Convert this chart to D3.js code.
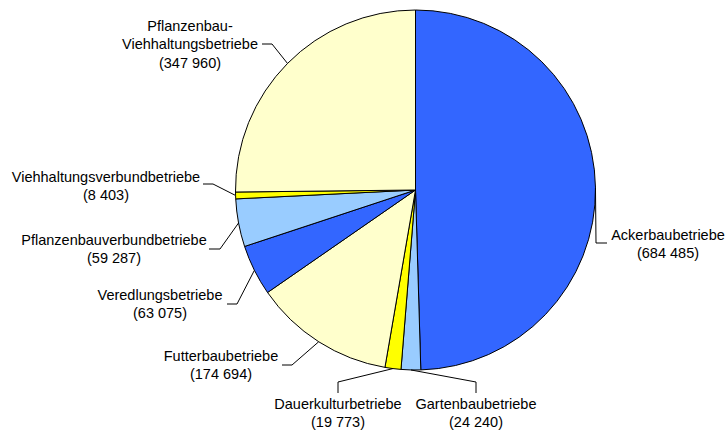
<!DOCTYPE html>
<html>
<head>
<meta charset="utf-8">
<script src="https://cdn.jsdelivr.net/npm/d3@7"></script>
<style>
  body { margin: 0; background: #fff; }
  svg text { font-family: "Liberation Sans", Arial, sans-serif; font-size: 14.5px; fill: #000; }
</style>
</head>
<body>
<svg id="chart" width="726" height="432"></svg>
<script>
const categories = ['Ackerbaubetriebe', 'Gartenbaubetriebe', 'Dauerkulturbetriebe', 'Futterbaubetriebe',
    'Veredlungsbetriebe', 'Pflanzenbauverbundbetriebe', 'Viehhaltungsverbundbetriebe', 'Pflanzenbau-\nViehhaltungsbetriebe']
const values = [684485, 24240, 19773, 174694, 63075, 59287, 8403, 347960]
const valueLabels = ['684 485', '24 240', '19 773', '174 694', '63 075', '59 287', '8 403', '347 960']
const colors = ['#3366ff', '#99ccff', '#ffff00', '#ffffcc', '#3366ff', '#99ccff', '#ffff00', '#ffffcc']

// label layout (text centre, first line y, leader elbow and end)
const labelLayout = [
    { x: 668, y: 235, elbow: [596, 243], end: [607, 243] },
    { x: 476, y: 404, elbow: [476, 382], end: [476, 393] },
    { x: 338, y: 404, elbow: [338, 382], end: [338, 393] },
    { x: 221, y: 356, elbow: [292, 365], end: [282, 365] },
    { x: 160, y: 295, elbow: [237, 304], end: [227, 304] },
    { x: 114, y: 240, elbow: [220, 249], end: [209, 249] },
    { x: 106, y: 177, elbow: [213, 184], end: [203, 184] },
    { x: 190, y: 26, elbow: [272, 44], end: [262, 44] }
]

const cx = 415.5, cy = 190, radius = 180
const lineHeight = 18.3

const svg = d3.select('#chart')
const g = svg.append('g').attr('transform', `translate(${cx},${cy})`)

const pie = d3.pie().sort(null).value(d => d)
const arcs = pie(values)

const arc = d3.arc().innerRadius(0).outerRadius(radius)

g.selectAll('path.slice')
    .data(arcs)
    .enter().append('path')
    .attr('class', 'slice')
    .attr('d', arc)
    .attr('fill', (d, i) => colors[i])
    .attr('stroke', '#000')
    .attr('stroke-width', 1)
    .attr('stroke-linejoin', 'round')

// leader lines from pie edge at the mid angle
const edgePoint = (d) => {
    const a = (d.startAngle + d.endAngle) / 2
    return [cx + radius * Math.sin(a), cy - radius * Math.cos(a)]
}

svg.selectAll('polyline.leader')
    .data(arcs)
    .enter().append('polyline')
    .attr('class', 'leader')
    .attr('points', (d, i) => {
        const p = edgePoint(d), l = labelLayout[i]
        return [p, l.elbow, l.end].map(q => q.join(',')).join(' ')
    })
    .attr('fill', 'none')
    .attr('stroke', '#000')
    .attr('stroke-width', 1)

const labels = svg.selectAll('text.label')
    .data(arcs)
    .enter().append('text')
    .attr('class', 'label')
    .attr('text-anchor', 'middle')

labels.each(function(d, i) {
    const lines = categories[i].split('\n').concat(['(' + valueLabels[i] + ')'])
    const l = labelLayout[i]
    d3.select(this).selectAll('tspan')
        .data(lines)
        .enter().append('tspan')
        .attr('x', l.x)
        .attr('y', (t, j) => l.y + j * lineHeight)
        .attr('dy', '0.34em')
        .text(t => t)
})
</script>
</body>
</html>
